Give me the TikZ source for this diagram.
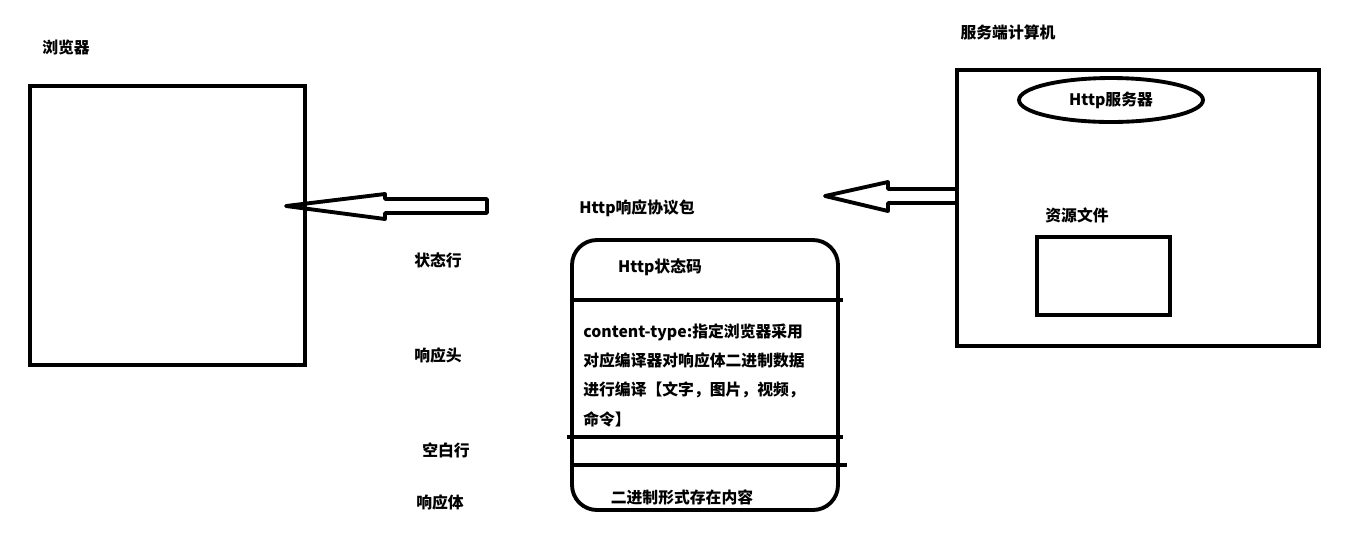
\documentclass[tikz,border=0pt]{standalone}
\usepackage{fontspec}
\newfontfamily\cjk{Noto Sans CJK SC}
\usetikzlibrary{calc,shapes.geometric}

\begin{document}
\begin{tikzpicture}[x=0.02cm,y=-0.02cm,
		thickline/.style={line width=2.2pt},
		lbl/.style={font=\cjk\bfseries\fontsize{9}{11}\selectfont, inner sep=0pt},
	]
		%%%%% START %%%%%
		\useasboundingbox (0,0) rectangle (1356,539);
		
		% browser
		\node[lbl] (browser) at (66,47) {浏览器};
		\draw[thickline] (30,86) rectangle (305,365);
		
		% server computer
		\node[lbl] (server) at (1008,32) {服务端计算机};
		\draw[thickline] (957,70) rectangle (1319,346);
		\node[lbl, draw, ellipse, thickline, minimum width=3.68cm, minimum height=0.88cm] (httpsrv) at (1111,100) {Http服务器};
		\node[lbl] (res) at (1077,215) {资源文件};
		\draw[thickline] (1037,237) rectangle (1170,315);
		
		% block arrows
		\coordinate (tipR) at (825,196);
		\coordinate (tipL) at (286,206);
		\draw[thickline, line join=round] (tipR) -- ++(63,-14) -- ++(0,7) -- ++(69,0) -- ++(0,14) -- ++(-69,0) -- ++(0,8) -- cycle;
		\draw[thickline, line join=round] (tipL) -- ++(99,-12) -- ++(0,5) -- ++(102,0) -- ++(0,14) -- ++(-102,0) -- ++(0,6) -- cycle;
		
		% response package
		\node[lbl] (pkg) at (637,208) {Http响应协议包};
		\draw[thickline, rounded corners=0.5cm] (572,240) rectangle (838,510);
		\draw[thickline] (572,300) -- (843,300);
		\draw[thickline] (567,437) -- (843,437);
		\draw[thickline] (572,465) -- (847,465);
		
		\node[lbl] (code) at (660,267) {Http状态码};
		\node[lbl, anchor=north west, align=left, font=\cjk\bfseries\fontsize{9}{16.7}\selectfont] (head) at (583,323)
			{content-type:指定浏览器采用\\对应编译器对响应体二进制数据\\进行编译【文字，图片，视频，\\命令】};
		\node[lbl] (body) at (682,497) {二进制形式存在内容};
		
		% row labels
		\node[lbl] (rowstate) at (438,260) {状态行};
		\node[lbl] (rowhead) at (438,355) {响应头};
		\node[lbl] (rowblank) at (446,450) {空白行};
		\node[lbl] (rowbody) at (440,502) {响应体};
		%%%%% END %%%%%
	\end{tikzpicture}
\end{document}
